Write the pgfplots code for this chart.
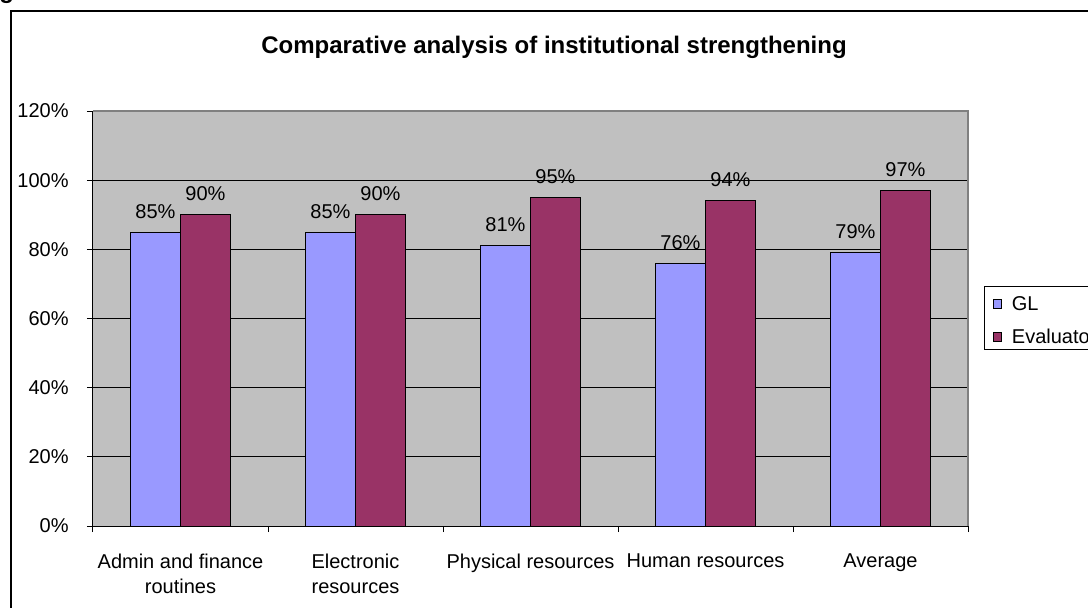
\documentclass[border=0pt]{standalone}
\usepackage{pgfplots}
\pgfplotsset{compat=1.18}
\usepackage{fontspec}
\setmainfont{Liberation Sans}

\definecolor{plotbg}{HTML}{C0C0C0}
\definecolor{glblue}{HTML}{9999FF}
\definecolor{evalplum}{HTML}{993366}
\definecolor{frame}{HTML}{808080}

\begin{document}
\begin{tikzpicture}
% outer chart frame (runs off the page to the right and bottom)
\draw[line width=1pt] (5.25pt,-5.25pt) rectangle (600pt,-340pt);
% fragment of the caption above the frame
\node[anchor=base west, inner sep=0pt, font=\bfseries\fontsize{12}{14}\selectfont] at (-0.5pt,0.6pt) {g};
% title
\node[anchor=base, inner sep=0pt, font=\bfseries\fontsize{12}{14}\selectfont] at (277pt,-26.5pt)
  {Comparative analysis of institutional strengthening};

\begin{axis}[
  at={(46.5pt,-263pt)}, anchor=south west,
  scale only axis, width=437.5pt, height=207.5pt,
  ybar=0pt, bar width=25pt,
  xmin=-0.5, xmax=4.5, ymin=0, ymax=120,
  axis x line*=bottom, axis y line*=left,
  axis line style={black, line width=0.5pt},
  axis background/.style={fill=plotbg},
  tick align=outside,
  tick style={black, line width=0.5pt},
  major tick length=3pt,
  % ticks on the category boundaries, names centred between them
  xtick={-0.5,0.5,1.5,2.5,3.5,4.5},
  x tick label as interval,
  xticklabels={{Admin and finance\\routines},{Electronic\\resources},{Physical resources},{Human resources},{Average}},
  xticklabel style={anchor=north, inner sep=0pt, yshift=-10.6pt, align=center,
    font=\fontsize{10}{12.5}\selectfont},
  ytick={0,20,40,60,80,100,120},
  yticklabels={0\%,20\%,40\%,60\%,80\%,100\%,120\%},
  yticklabel style={anchor=east, inner sep=0pt, xshift=-9pt, font=\fontsize{10}{12}\selectfont},
  ymajorgrids, grid style={black, line width=0.5pt},
  clip=false,
  nodes near coords={\pgfmathprintnumber[assume math mode=true]{\pgfplotspointmeta}\%},
  every node near coord/.append style={anchor=base, inner sep=0pt, yshift=7pt,
    font=\fontsize{10}{12}\selectfont, text=black},
  legend image code/.code={\draw[#1,draw=black,line width=0.5pt] (0pt,1.1pt) rectangle (4.2pt,5.3pt);},
  legend style={at={(rel axis cs:1.0183,0.5783)}, anchor=north west,
    draw=black, line width=0.5pt, fill=white,
    inner xsep=4pt, inner ysep=3pt, row sep=7.5pt, column sep=5pt,
    nodes={inner sep=0pt, text height=9pt, text depth=0pt, anchor=base west},
    font=\fontsize{10}{12}\selectfont},
  legend cell align=left,
]
\addplot[fill=glblue, draw=black, line width=0.5pt]
  coordinates {(0,85) (1,85) (2,81) (3,76) (4,79)};
\addplot[fill=evalplum, draw=black, line width=0.5pt]
  coordinates {(0,90) (1,90) (2,95) (3,94) (4,97)};
\legend{GL,Evaluator}
% plot-area border on the top and right
\draw[frame, line width=0.6pt] (rel axis cs:0,1) -- (rel axis cs:1,1) -- (rel axis cs:1,0);
\end{axis}

\pgfresetboundingbox
\useasboundingbox (0,0) rectangle (544pt,-303.5pt);
\end{tikzpicture}
\end{document}
